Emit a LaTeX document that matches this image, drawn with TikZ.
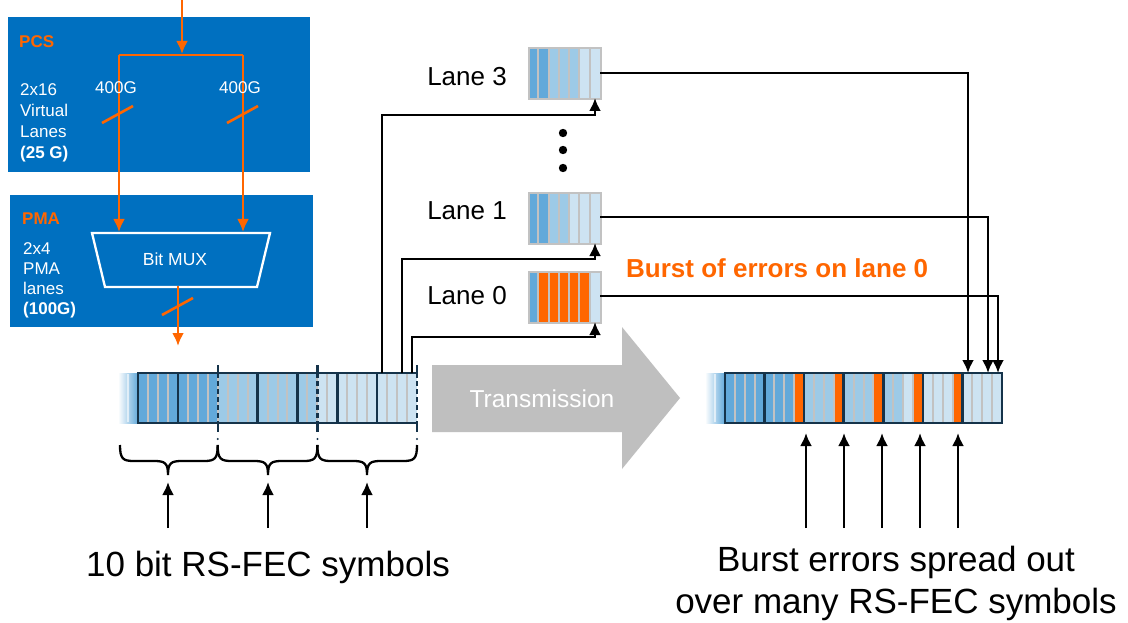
\documentclass[tikz,border=0pt]{standalone}
\usepackage{fontspec}
\setmainfont{Liberation Sans}
\usetikzlibrary{arrows.meta}
\definecolor{boxblue}{HTML}{0070C0}
\definecolor{sigorange}{HTML}{FF6600}
\definecolor{bitM}{HTML}{62A9DA}
\definecolor{bitL}{HTML}{9DCAE7}
\definecolor{bitV}{HTML}{CDE3F2}
\definecolor{bitO}{HTML}{FF6600}
\definecolor{framecol}{HTML}{15334A}
\definecolor{sepgrey}{HTML}{C2C2C2}
\definecolor{arrowgrey}{HTML}{BFBFBF}

% one lane buffer: seven bit stripes in a grey frame
\newcommand{\lanebits}[3]{% #1 node name, #2 top y, #3 stripe colours
  \foreach \c [count=\i from 0] in {#3} {\fill[\c] ({528+\i*72/7},#2) rectangle ({528+(\i+1)*72/7},{#2+51});}
  \foreach \i in {1,...,6} {\draw[sepgrey, line width=2pt] ({528+\i*72/7},#2) -- ({528+\i*72/7},{#2+51});}
  \node[lanebox] (#1) at (528,#2) {};
}

\begin{document}
\begin{tikzpicture}[x=1pt,y=-1pt,
  conn/.style={draw=black, line width=2.5pt, -{Latex[length=13pt,width=12pt]}},
  sig/.style={draw=sigorange, line width=2.7pt},
  sigarrow/.style={sig, -{Latex[length=13pt,width=12pt]}},
  slash/.style={draw=sigorange, line width=2.6pt},
  bluebox/.style={fill=boxblue, draw=none, anchor=north west, inner sep=0pt},
  boxtitle/.style={text=sigorange, font=\fontsize{17}{20}\selectfont\bfseries, anchor=west, inner sep=0pt},
  boxtext/.style={text=white, anchor=north west, inner sep=0pt, align=left},
  whitelabel/.style={text=white, font=\fontsize{17}{20}\selectfont, inner sep=0pt},
  lanebox/.style={draw=sepgrey, line width=2.4pt, minimum width=72pt, minimum height=51pt, anchor=north west, inner sep=0pt},
  lanelabel/.style={font=\fontsize{26}{30}\selectfont, anchor=east, inner sep=0pt},
  bigtext/.style={font=\fontsize{35}{42}\selectfont, inner sep=0pt, align=center},
  bitframe/.style={draw=framecol, line width=2.5pt},
  marker/.style={draw=framecol, line width=2.3pt},
  bracestyle/.style={draw=black, line width=2.3pt},
]
\fill[white] (0,0) rectangle (1128,623);
\useasboundingbox (0,0) rectangle (1128,623);

% ---------------- PCS / PMA blocks ----------------
\node[bluebox, minimum width=302pt, minimum height=155pt] (pcs) at (8,17) {};
\node[bluebox, minimum width=303pt, minimum height=132pt] (pma) at (10,195) {};

\node[boxtitle] (pcstitle) at (19,42) {PCS};
\node[boxtext, font=\fontsize{17}{21}\selectfont] (pcstext) at (20,83)
  {2x16\\Virtual\\Lanes\\\textbf{(25 G)}};
\node[boxtitle] (pmatitle) at (22,219) {PMA};
\node[boxtext, font=\fontsize{17}{20}\selectfont] (pmatext) at (23,242)
  {2x4\\PMA\\lanes\\\textbf{(100G)}};

% bit multiplexer
\draw[white, line width=2.3pt] (92,233) -- (270,233) -- (257,287) -- (105,287) -- cycle;
\node[whitelabel, font=\fontsize{17.5}{20}\selectfont] (mux) at (175,259) {Bit MUX};

% orange data paths
\coordinate (feed) at (182,0);
\coordinate (feedend) at (182,54);
\coordinate (splitL) at (119,55);
\coordinate (splitR) at (243,55);
\coordinate (muxL) at (119,232);
\coordinate (muxR) at (243,232);
\coordinate (muxout) at (178,286);
\coordinate (pmaout) at (178,346);
\draw[sigarrow] (feed) -- (feedend);
\draw[sig] (splitL) -- (splitR);
\draw[sigarrow] (splitL) -- (muxL);
\draw[sigarrow] (splitR) -- (muxR);
\draw[sigarrow] (muxout) -- (pmaout);
\draw[slash] (102,123) -- (133,106);
\draw[slash] (227,123) -- (258,106);
\draw[slash] (162,315) -- (193,298);
\node[whitelabel] (rateL) at (116,87.5) {400G};
\node[whitelabel] (rateR) at (240,87.5) {400G};

% ---------------- transmitted bit stream ----------------
\pgfmathsetmacro{\bw}{(417-138)/28}
\shade[left color=white, right color=bitM] (118,373) rectangle (138,423);
\draw[white, line width=1.5pt, opacity=0.6] (128,374) -- (128,422);
\foreach \c [count=\i from 0] in {bitM,bitM,bitM,bitM,bitM,bitM,bitM,bitM,
    bitL,bitL,bitL,bitL,bitL,bitL,bitL,bitL,bitL,bitL,
    bitV,bitV,bitV,bitV,bitV,bitV,bitV,bitV,bitV,bitV}
  {\fill[\c] ({138+\i*\bw},373) rectangle ({138+(\i+1)*\bw},423);}
\foreach \i in {1,...,27}
  {\draw[sepgrey, line width=2pt] ({138+\i*\bw},374) -- ({138+\i*\bw},422);}
\draw[bitframe] (417,373) -- (138,373) -- (138,423) -- (417,423);
\foreach \k in {1,3,4,5,6}
  {\draw[bitframe] ({138+4*\k*\bw},373) -- ({138+4*\k*\bw},423);}
% symbol boundaries
\foreach \x in {217.7,317.4,417} {
  \draw[marker] (\x,365) -- (\x,373);
  \draw[marker, dash pattern=on 5pt off 3pt] (\x,373) -- (\x,423);
  \draw[marker] (\x,423) -- (\x,432);
  \fill[framecol] (\x,439) circle (1.1pt);
}
% braces grouping the 10 bit symbols
\foreach \xa/\xm/\xb in {120/168/217.7, 217.7/268/317.4, 317.4/367/417} {
  \draw[bracestyle] (\xa,445) .. controls (\xa,459) and ({\xa+3},461) .. ({\xa+14},461)
    -- ({\xm-14},461) .. controls ({\xm-3},461) and (\xm,463) .. (\xm,475)
    .. controls (\xm,463) and ({\xm+3},461) .. ({\xm+14},461)
    -- ({\xb-14},461) .. controls ({\xb-3},461) and (\xb,459) .. (\xb,445);
}
\foreach \x [count=\n] in {168,268,367} {
  \coordinate (symfoot\n) at (\x,528);
  \coordinate (symtip\n) at (\x,482);
  \draw[conn] (symfoot\n) -- (symtip\n);
}
\node[bigtext] (symlabel) at (268,567) {10 bit RS-FEC symbols};

% ---------------- lane buffers ----------------
\lanebits{lane3}{47}{bitM,bitM,bitL,bitL,bitL,bitV,bitV}
\lanebits{lane1}{192}{bitM,bitM,bitL,bitL,bitV,bitV,bitV}
\lanebits{lane0}{271}{bitM,bitO,bitO,bitO,bitO,bitO,bitV}
\node[lanelabel] (lab3) at (507,77) {Lane 3};
\node[lanelabel] (lab1) at (507,210.5) {Lane 1};
\node[lanelabel] (lab0) at (507,295.5) {Lane 0};
\foreach \y in {133,150,168} {\fill[black] (563,\y) circle (4.2pt);}

% distribution from the stream to the lanes
\coordinate (tap3) at (382,373);
\coordinate (tap1) at (402,373);
\coordinate (tap0) at (412,373);
\coordinate (bend3) at (595,115);
\coordinate (bend1) at (595,259);
\coordinate (bend0) at (595,337);
\coordinate (lin3) at (595,98);
\coordinate (lin1) at (595,243);
\coordinate (lin0) at (595,322);
\draw[conn] (tap3) |- (bend3) -- (lin3);
\draw[conn] (tap1) |- (bend1) -- (lin1);
\draw[conn] (tap0) |- (bend0) -- (lin0);

\node[font=\fontsize{26}{30}\selectfont\bfseries, text=sigorange, anchor=west, inner sep=0pt]
  (burst) at (626,268) {Burst of errors on lane 0};

% ---------------- transmission ----------------
\fill[arrowgrey] (432,365) -- (622,365) -- (622,327) -- (680,398) -- (622,469) -- (622,432) -- (432,432) -- cycle;
\node[text=white, font=\fontsize{24.5}{28}\selectfont, inner sep=0pt] (tx) at (542,399) {Transmission};

% ---------------- received bit stream ----------------
\pgfmathsetmacro{\rw}{(1002-725)/28}
\shade[left color=white, right color=bitM] (705,373) rectangle (725,423);
\draw[white, line width=1.5pt, opacity=0.6] (715,374) -- (715,422);
\foreach \c [count=\i from 0] in {bitM,bitM,bitM,bitM, bitM,bitM,bitM,bitO,
    bitL,bitL,bitL,bitO, bitL,bitL,bitL,bitO, bitL,bitL,bitV,bitO,
    bitV,bitV,bitV,bitO, bitV,bitV,bitV,bitV}
  {\fill[\c] ({725+\i*\rw},373) rectangle ({725+(\i+1)*\rw},423);}
\foreach \i in {1,...,27}
  {\draw[sepgrey, line width=2pt] ({725+\i*\rw},374) -- ({725+\i*\rw},422);}
\foreach \k in {0,...,6}
  {\draw[bitframe] ({725+4*\k*\rw},373) rectangle ({725+4*(\k+1)*\rw},423);}

% lanes merged back into the stream
\coordinate (lout3) at (600,73);
\coordinate (lout1) at (600,217);
\coordinate (lout0) at (600,296);
\coordinate (rin3) at (968,373);
\coordinate (rin1) at (988,373);
\coordinate (rin0) at (998,373);
\draw[conn] (lout3) -| (rin3);
\draw[conn] (lout1) -| (rin1);
\draw[conn] (lout0) -| (rin0);

\foreach \x [count=\n] in {806,844,882,920,958} {
  \coordinate (errfoot\n) at (\x,528);
  \coordinate (errtip\n) at (\x,433);
  \draw[conn] (errfoot\n) -- (errtip\n);
}
\node[bigtext] (spread) at (896,583) {Burst errors spread out\\over many RS-FEC symbols};
\end{tikzpicture}
\end{document}
